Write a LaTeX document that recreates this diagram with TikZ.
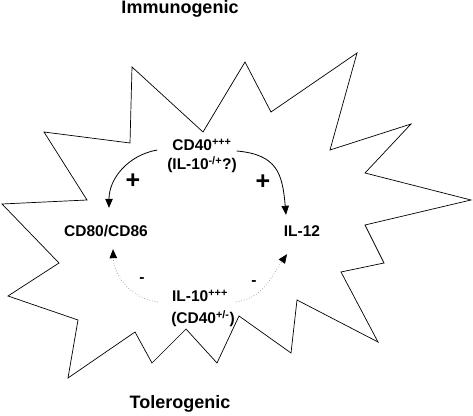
\documentclass[tikz,border=0pt]{standalone}
\usepackage{fontspec}
\setmainfont{Liberation Sans}
\usetikzlibrary{arrows.meta}
\begin{document}
\begin{tikzpicture}[x=1pt,y=1pt,
  lbl/.style={font=\fontsize{15.5}{18}\selectfont\bfseries, inner sep=0pt, text height=11pt, text depth=0pt},
  title/.style={font=\fontsize{18}{21}\selectfont\bfseries, inner sep=0pt},
  sign/.style={font=\fontsize{25}{28}\selectfont\bfseries, inner sep=0pt},
  star/.style={draw=black, line width=0.7pt, line join=miter},
  plusarrow/.style={draw=black, line width=0.8pt, -{Triangle[length=9pt,width=7.5pt]}},
  minusarrow/.style={draw=black!40, line width=0.7pt, dotted, -{Triangle[length=9pt,width=7.5pt,color=black]}}
]
\useasboundingbox (0,0) rectangle (473,415);
\fill[white] (0,0) rectangle (473,415);
% star-shaped cell
\draw[star] (132,348) -- (203,283) -- (245,353) -- (271,303) -- (357,362) -- (330,265)
  -- (411,291) -- (365,242) -- (471,215) -- (365,190) -- (384,152) -- (341,143)
  -- (378,73) -- (297,115) -- (291,62) -- (239,99) -- (217,52) -- (186,86)
  -- (152,52) -- (135,83) -- (68,37) -- (78,95) -- (8,119) -- (59,152)
  -- (2,211) -- (87,215) -- (44,283) -- (130,272) -- cycle;
% titles
\node[title] (immuno) at (180,406) {Immunogenic};
\node[title] (tolero) at (180,11) {Tolerogenic};
% labels
\node[lbl] (cd40a) at (202,270) {CD40\textsuperscript{+++}};
\node[lbl] (cd40b) at (202,251) {(IL-10\textsuperscript{-/+}?)};
\node[lbl] (cd80) at (106,184) {CD80/CD86};
\node[lbl] (il12) at (302,184) {IL-12};
\node[lbl] (il10a) at (200,119) {IL-10\textsuperscript{+++}};
\node[lbl] (il10b) at (203,97) {(CD40\textsuperscript{+/-})};
% signs
\node[sign] (plusl) at (133,234) {+};
\node[sign] (plusr) at (263,233) {+};
\node[lbl] (minusl) at (142,138) {-};
\node[lbl] (minusr) at (254,135) {-};
% connectors
\draw[plusarrow] ([xshift=-15pt,yshift=-5pt]cd40a.west) to[out=190,in=90] ([xshift=3pt,yshift=17.5pt]cd80.north);
\draw[plusarrow] ([xshift=5pt,yshift=-6pt]cd40a.east) to[out=-5,in=95,looseness=1.3] ([xshift=-16pt,yshift=10.5pt]il12.north);
\draw[minusarrow] ([xshift=-14pt,yshift=-6pt]il10a.west) to[out=172,in=-88] ([xshift=7pt,yshift=-12.5pt]cd80.south);
\draw[minusarrow] ([xshift=8pt,yshift=-6pt]il10a.east) to[out=8,in=-125] ([xshift=-15pt,yshift=-17.5pt]il12.south);
\end{tikzpicture}
\end{document}
